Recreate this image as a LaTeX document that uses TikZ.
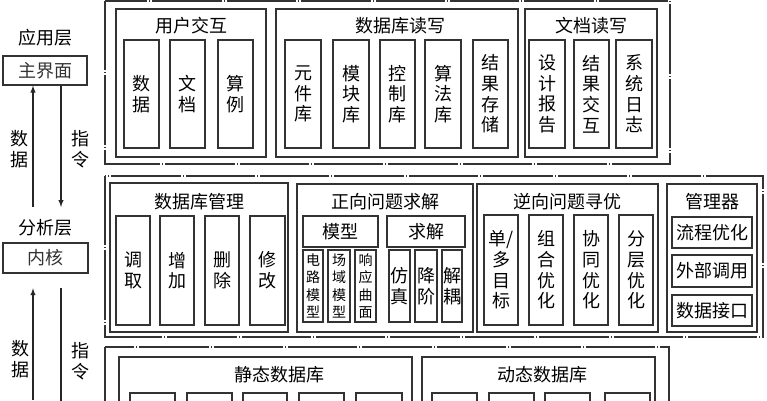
\documentclass[tikz,border=0pt]{standalone}
\usepackage{fontspec}
\newfontfamily\cjk{Noto Sans CJK SC}
\usepackage{tikz}

\begin{document}
\begin{tikzpicture}[x=0.75pt,y=0.75pt,yscale=-1,xscale=1,
  frame/.style={color=black!80, line width=1pt, dash pattern=on 52pt off 1.5pt on 0.8pt off 1.5pt},
  box/.style={color=black!80, line width=0.9pt},
  lbl/.style={inner sep=0pt, align=center, font=\cjk\fontsize{13.5}{15.5}\selectfont},
  slbl/.style={inner sep=0pt, align=center, font=\cjk\fontsize{10.5}{13}\selectfont},
  arr/.style={color=black!85, line width=0.8pt, -latex}]

\useasboundingbox (0,0) rectangle (767,400);
\clip (0,0) rectangle (767,400);

% left column
\draw (45,38) node (applayer) [lbl] {应用层};
\node (mainui) [box, draw, lbl, minimum width=63pt, minimum height=21.75pt] at (45,70.5) {主界面};
\draw (45,228) node (analayer) [lbl] {分析层};
\node (kernel) [box, draw, lbl, minimum width=63.75pt, minimum height=22.5pt] at (45.5,258) {内核};
\coordinate (upA) at (33,207);
\coordinate (dnA) at (61,207);
\coordinate (upB) at (33,400);
\coordinate (dnB) at (61,415);
\draw [arr] (upA) -- (upA |- mainui.south);
\draw [arr] (mainui.south -| dnA) -- (dnA);
\draw [arr, shorten >=11pt] (upB) -- (upB |- kernel.south);
\draw [arr, shorten <=10.5pt] (kernel.south -| dnB) -- (dnB);
\draw (20,149) node (datalblA) [lbl] {数\\据};
\draw (80,149) node (cmdlblA) [lbl] {指\\令};
\draw (21,359) node (datalblB) [lbl] {数\\据};
\draw (80,361) node (cmdlblB) [lbl] {指\\令};

% application layer
\draw [frame] (105,1) rectangle (670,164);

\draw [box] (116,9) rectangle (266,157);
\draw (191,26) node (uititle) [lbl] {用户交互};
\draw [box] (124,40) rectangle (159,148);
\draw [box] (170,40) rectangle (205,148);
\draw [box] (218,40) rectangle (253,148);
\draw (141.5,94) node (uidata) [lbl] {数\\据};
\draw (187.5,94) node (uidoc) [lbl] {文\\档};
\draw (235.5,94) node (uicase) [lbl] {算\\例};

\draw [box] (276,9) rectangle (518,157);
\draw (400,26) node (dbtitle) [lbl] {数据库读写};
\draw [box] (285,40) rectangle (321,148);
\draw [box] (333,40) rectangle (369,148);
\draw [box] (380,40) rectangle (415,148);
\draw [box] (425,40) rectangle (461,148);
\draw [box] (473,40) rectangle (508,148);
\draw (303,94) node (dbpart) [lbl] {元\\件\\库};
\draw (351,94) node (dbmod) [lbl] {模\\块\\库};
\draw (397.5,94) node (dbctrl) [lbl] {控\\制\\库};
\draw (443,94) node (dbalgo) [lbl] {算\\法\\库};
\draw (490.5,94) node (dbres) [lbl] {结\\果\\存\\储};

\draw [box] (525,9) rectangle (657,157);
\draw (591,26) node (doctitle) [lbl] {文档读写};
\draw [box] (529,40) rectangle (565,148);
\draw [box] (574,40) rectangle (609,148);
\draw [box] (616,40) rectangle (652,148);
\draw (547,94) node (docrep) [lbl] {设\\计\\报\\告};
\draw (591.5,94) node (docres) [lbl] {结\\果\\交\\互};
\draw (634,94) node (doclog) [lbl] {系\\统\\日\\志};

% analysis layer
\draw [frame] (105,176) rectangle (763,337);

\draw [box] (110,183) rectangle (288,332);
\draw (199,202) node (mgrtitle) [lbl] {数据库管理};
\draw [box] (116,216) rectangle (150,325);
\draw [box] (160,216) rectangle (194,325);
\draw [box] (205,216) rectangle (239,325);
\draw [box] (250,216) rectangle (285,325);
\draw (133,270.5) node (mgrget) [lbl] {调\\取};
\draw (177,270.5) node (mgradd) [lbl] {增\\加};
\draw (222,270.5) node (mgrdel) [lbl] {删\\除};
\draw (267.5,270.5) node (mgrmod) [lbl] {修\\改};

\draw [box] (297,184) rectangle (473,332);
\draw (385,202) node (fwdtitle) [lbl] {正向问题求解};
\draw [box] (303,216) rectangle (378,247);
\draw [box] (387,216) rectangle (465,247);
\draw (340.5,231.5) node (fwdmodel) [lbl] {模型};
\draw (426,231.5) node (fwdsolve) [lbl] {求解};
\draw [box] (303,250) rectangle (323,322);
\draw [box] (328,250) rectangle (350,322);
\draw [box] (355,250) rectangle (376,322);
\draw [box] (389,250) rectangle (410,322);
\draw [box] (415,250) rectangle (437,322);
\draw [box] (442,250) rectangle (462,322);
\draw (313,286) node (fwdcirc) [slbl] {电\\路\\模\\型};
\draw (339,286) node (fwdfield) [slbl] {场\\域\\模\\型};
\draw (365.5,286) node (fwdresp) [slbl] {响\\应\\曲\\面};
\draw (399.5,286) node (fwdsim) [lbl] {仿\\真};
\draw (426,286) node (fwdred) [lbl] {降\\阶};
\draw (452,286) node (fwddec) [lbl] {解\\耦};

\draw [box] (477,184) rectangle (658,332);
\draw (567,202) node (invtitle) [lbl] {逆向问题寻优};
\draw [box] (484,215) rectangle (518,325);
\draw [box] (529,215) rectangle (563,325);
\draw [box] (574,215) rectangle (608,325);
\draw [box] (619,215) rectangle (653,325);
\draw (501,270) node (invobj) [lbl] {单/\\多\\目\\标};
\draw (546,270) node (invcomb) [lbl] {组\\合\\优\\化};
\draw (591,270) node (invcoop) [lbl] {协\\同\\优\\化};
\draw (636,270) node (invhier) [lbl] {分\\层\\优\\化};

\draw [box] (667,184) rectangle (757,332);
\draw (712,202) node (ctltitle) [lbl] {管理器};
\draw [box] (672,217) rectangle (752,248);
\draw [box] (672,255) rectangle (752,287);
\draw [box] (672,295) rectangle (752,326);
\draw (712,232.5) node (ctlflow) [lbl] {流程优化};
\draw (712,271) node (ctlext) [lbl] {外部调用};
\draw (712,310.5) node (ctlport) [lbl] {数据接口};

% data layer
\draw [frame] (105,347) rectangle (669,430);

\draw [box] (119,357) rectangle (412,425);
\draw (279,375) node (stattitle) [lbl] {静态数据库};
\draw [box] (130,393) rectangle (175,420);
\draw [box] (187,393) rectangle (232,420);
\draw [box] (243,393) rectangle (287,420);
\draw [box] (299,393) rectangle (344,420);
\draw [box] (356,393) rectangle (402,420);

\draw [box] (422,357) rectangle (655,425);
\draw (542,375) node (dyntitle) [lbl] {动态数据库};
\draw [box] (432,393) rectangle (477,420);
\draw [box] (489,393) rectangle (534,420);
\draw [box] (545,393) rectangle (590,420);
\draw [box] (605,393) rectangle (650,420);

\end{tikzpicture}
\end{document}
